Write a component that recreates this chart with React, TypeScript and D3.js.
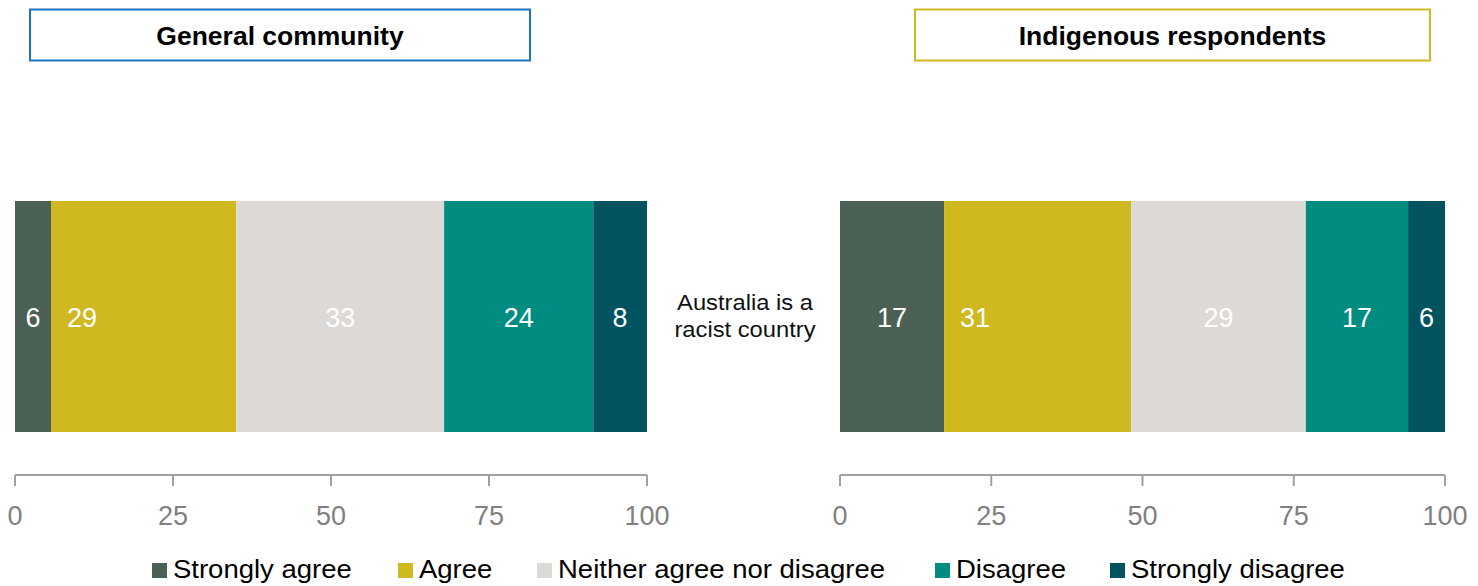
import React from "react";
import * as d3 from "d3";

const categories = ["Strongly agree", "Agree", "Neither agree nor disagree", "Disagree", "Strongly disagree"];
const colors = ["#4b6155", "#d0b920", "#ddd9d6", "#008c81", "#00535f"];
const generalValues = [5.7, 29.3, 32.9, 23.6, 8.5];
const generalLabels = ["6", "29", "33", "24", "8"];
const indigenousValues = [17.2, 30.9, 28.9, 16.9, 6.1];
const indigenousLabels = ["17", "31", "29", "17", "6"];
const ticks = [0, 25, 50, 75, 100];
const question = ["Australia is a", "racist country"];
const panelTitles = ["General community", "Indigenous respondents"];

const FONT = "'Liberation Sans', Arial, sans-serif";

function SText({ x, y, sx = 1, children, ...rest }) {
  return (
    <text transform={`translate(${x},${y}) scale(${sx},1)`} fontFamily={FONT} {...rest}>
      {children}
    </text>
  );
}

function Panel({ x0, x1, values, labels, title, boxX0, boxX1, boxColor }) {
  const x = d3.scaleLinear().domain([0, 100]).range([x0, x1]);
  const y = d3.scaleBand().domain(["q"]).range([201, 432]).padding(0);
  const stack = d3.stack().keys(categories.map((_, i) => String(i)))([
    Object.fromEntries(values.map((v, i) => [String(i), v])),
  ]);
  const axisY = 475;
  return (
    <g>
      <rect x={boxX0} y={9.5} width={boxX1 - boxX0} height={51} fill="#fff" stroke={boxColor} strokeWidth={2} />
      <SText x={(boxX0 + boxX1) / 2} y={45} sx={1.06} textAnchor="middle" fontWeight="bold" fontSize={25} fill="#000">
        {title}
      </SText>
      {stack.map((s, i) => {
        const [a, b] = s[0];
        const xa = x(a), xb = x(b);
        const isAgree = i === 1;
        return (
          <g key={i}>
            <rect x={xa} y={y("q")} width={xb - xa} height={y.bandwidth()} fill={colors[i]} />
            <SText
              x={isAgree ? xa + 16 : (xa + xb) / 2}
              y={y("q") + y.bandwidth() / 2 + 10}
              textAnchor={isAgree ? "start" : "middle"}
              fontSize={27}
              fill="#fff"
            >
              {labels[i]}
            </SText>
          </g>
        );
      })}
      <line x1={x(0)} x2={x(100)} y1={axisY} y2={axisY} stroke="#a0a0a0" strokeWidth={2} />
      {ticks.map((t) => (
        <g key={t}>
          <line x1={x(t)} x2={x(t)} y1={axisY} y2={axisY + 11} stroke="#a0a0a0" strokeWidth={2} />
          <SText x={x(t)} y={525} textAnchor="middle" fontSize={27} fill="#808080">
            {t}
          </SText>
        </g>
      ))}
    </g>
  );
}

const legendX = [152, 398, 537, 935, 1110];

export default function App() {
  return (
    <svg width={1478} height={586} style={{ position: "absolute", left: 0, top: 0, background: "#fff" }}>
      <Panel x0={15} x1={647} values={generalValues} labels={generalLabels} title={panelTitles[0]} boxX0={30} boxX1={530} boxColor="#1a74c1" />
      <Panel x0={840} x1={1445} values={indigenousValues} labels={indigenousLabels} title={panelTitles[1]} boxX0={915} boxX1={1430} boxColor="#d0b920" />
      {question.map((q, i) => (
        <SText key={i} x={745} y={310 + i * 27} sx={1.08} textAnchor="middle" fontSize={22} fill="#111">
          {q}
        </SText>
      ))}
      {categories.map((c, i) => (
        <g key={c}>
          <rect x={legendX[i]} y={563} width={15} height={15} fill={colors[i]} />
          <SText x={legendX[i] + 21} y={578} sx={1.1} fontSize={25} fill="#000">
            {c}
          </SText>
        </g>
      ))}
    </svg>
  );
}
